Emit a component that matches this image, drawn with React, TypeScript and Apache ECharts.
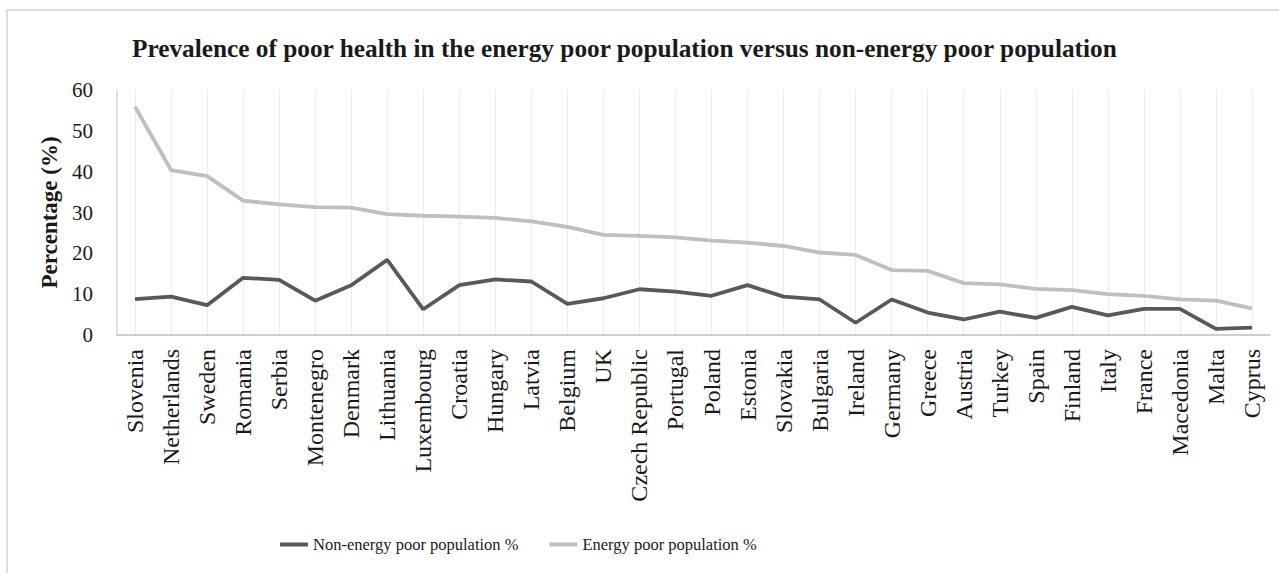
import React, { useEffect, useRef } from "react";
import * as echarts from "echarts";

const countries = [
  "Slovenia", "Netherlands", "Sweden", "Romania", "Serbia", "Montenegro", "Denmark", "Lithuania",
  "Luxembourg", "Croatia", "Hungary", "Latvia", "Belgium", "UK", "Czech Republic", "Portugal",
  "Poland", "Estonia", "Slovakia", "Bulgaria", "Ireland", "Germany", "Greece", "Austria",
  "Turkey", "Spain", "Finland", "Italy", "France", "Macedonia", "Malta", "Cyprus",
];

const nonEnergyPoor = [
  8.8, 9.4, 7.3, 14.0, 13.5, 8.4, 12.2, 18.4, 6.3, 12.2, 13.6, 13.1, 7.6, 9.0, 11.2, 10.6,
  9.6, 12.2, 9.4, 8.7, 3.0, 8.7, 5.5, 3.8, 5.7, 4.2, 6.9, 4.8, 6.4, 6.4, 1.5, 1.8,
];

const energyPoor = [
  55.9, 40.4, 38.9, 32.9, 32.0, 31.3, 31.2, 29.6, 29.2, 29.0, 28.7, 27.8, 26.5, 24.5, 24.3, 23.9,
  23.1, 22.6, 21.8, 20.2, 19.6, 15.9, 15.7, 12.7, 12.4, 11.3, 11.0, 10.0, 9.6, 8.7, 8.4, 6.5,
];

const yTicks = { min: 0, max: 60, interval: 10 };

const FONT = "'Liberation Serif', 'DejaVu Serif', serif";

export default function App() {
  const ref = useRef<HTMLDivElement>(null);

  useEffect(() => {
    if (!ref.current) return;
    const chart = echarts.init(ref.current, undefined, { renderer: "svg" });
    chart.setOption({
      animation: false,
      backgroundColor: "#ffffff",
      graphic: [
        {
          type: "rect",
          shape: { x: 7, y: 10, width: 1300, height: 620 },
          style: { fill: "none", stroke: "#d4d4d4", lineWidth: 1.5 },
          silent: true,
          z: -10,
        },
      ],
      title: {
        text: "Prevalence of poor health in the energy poor population versus non-energy poor population",
        left: 127,
        top: 30,
        textStyle: { fontFamily: FONT, fontSize: 25.3, fontWeight: "bold", color: "#1a1a1a" },
      },
      legend: {
        left: 275,
        top: 531,
        itemWidth: 28,
        itemHeight: 4,
        itemGap: 31,
        icon: "rect",
        textStyle: { fontFamily: FONT, fontSize: 16.5, color: "#1a1a1a" },
        data: ["Non-energy poor population %", "Energy poor population %"],
      },
      grid: { left: 117, right: 9, top: 90, bottom: 238, containLabel: false },
      xAxis: {
        type: "category",
        data: countries,
        boundaryGap: true,
        axisLine: { show: true, lineStyle: { color: "#bfbfbf", width: 1.5 } },
        axisTick: { show: false },
        splitLine: { show: true, alignWithLabel: true, lineStyle: { color: "#ececec", width: 1 } },
        axisLabel: {
          interval: 0,
          rotate: 90,
          margin: 14,
          fontFamily: FONT,
          fontSize: 24,
          color: "#1a1a1a",
        },
      },
      yAxis: {
        type: "value",
        min: yTicks.min,
        max: yTicks.max,
        interval: yTicks.interval,
        name: "Percentage (%)",
        nameLocation: "middle",
        nameGap: 55,
        nameTextStyle: { fontFamily: FONT, fontSize: 23, fontWeight: "bold", color: "#1a1a1a" },
        axisLine: { show: true, lineStyle: { color: "#d9d9d9", width: 1.5 } },
        axisTick: { show: false },
        splitLine: { show: false },
        axisLabel: { margin: 24, fontFamily: FONT, fontSize: 21, color: "#1a1a1a" },
      },
      series: [
        {
          name: "Energy poor population %",
          type: "line",
          data: energyPoor,
          symbol: "none",
          itemStyle: { color: "#bfbfbf" },
          lineStyle: { color: "#bfbfbf", width: 3.8 },
          z: 2,
        },
        {
          name: "Non-energy poor population %",
          type: "line",
          data: nonEnergyPoor,
          symbol: "none",
          itemStyle: { color: "#595959" },
          lineStyle: { color: "#595959", width: 3.8 },
          z: 3,
        },
      ],
    });
    return () => chart.dispose();
  }, []);

  return (
    <div
      ref={ref}
      style={{ position: "fixed", left: 0, top: 0, width: 1279, height: 573 }}
    />
  );
}
